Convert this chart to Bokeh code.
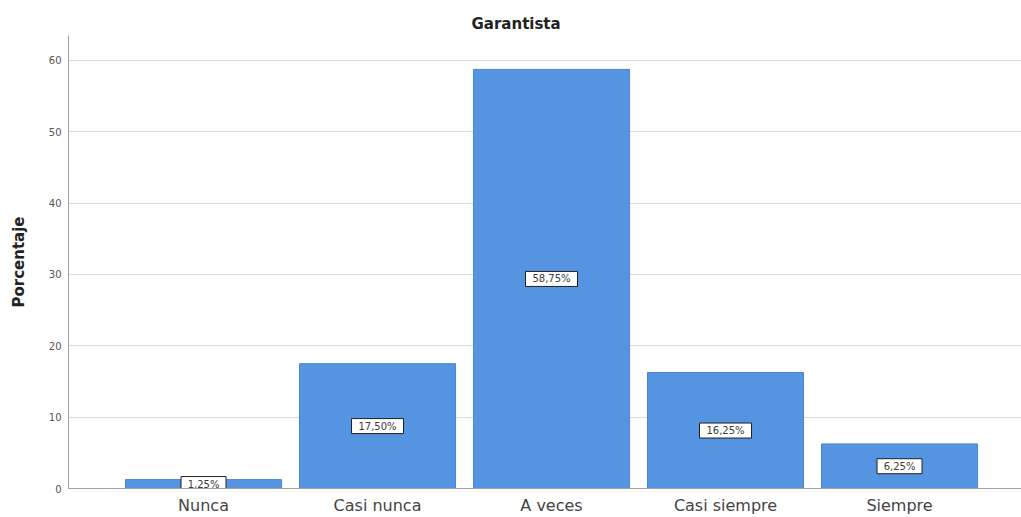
from bokeh.plotting import figure
from bokeh.models import ColumnDataSource, Range1d, FixedTicker
from bokeh.core.properties import value
from bokeh.embed import file_html
from bokeh.resources import INLINE

categories = ["Nunca", "Casi nunca", "A veces", "Casi siempre", "Siempre"]
values = [1.25, 17.50, 58.75, 16.25, 6.25]
labels = ["1,25%", "17,50%", "58,75%", "16,25%", "6,25%"]
y_ticks = [0, 10, 20, 30, 40, 50, 60]

FONT = "DejaVu Sans"

xs = list(range(len(categories)))
src = ColumnDataSource(dict(
    x=xs,
    top=values,
    mid=[v / 2 for v in values],
    lab=labels,
    bw=[7 * len(s) + 10 for s in labels],
))

p = figure(width=1021, height=517, output_backend="svg", toolbar_location=None,
           x_range=Range1d(-0.776, 4.701), y_range=Range1d(0, 63.5),
           min_border_left=68, min_border_right=0, min_border_top=35, min_border_bottom=29,
           title="Garantista")

p.title.align = "left"
p.title.offset = 403
p.title.text_font = FONT
p.title.text_font_size = "15px"
p.title.text_font_style = "bold"
p.title.text_color = "#222222"
p.title.standoff = 5

p.vbar(x="x", top="top", width=0.897, bottom=0, source=src,
       fill_color="#5594E1", line_color="#4a86d0", line_width=1)

p.rect(x="x", y="mid", width="bw", height=15, width_units="screen", height_units="screen",
       source=src, fill_color="white", line_color="#202020", line_width=1)
p.text(x="x", y="mid", text="lab", source=src, text_align="center", text_baseline="middle",
       text_font=value(FONT), text_font_size="10px", text_color="#3a3a3a")

p.outline_line_color = None
p.xgrid.visible = False
p.ygrid.grid_line_color = "#dcdcdc"
p.ygrid.grid_line_width = 1
p.ygrid.ticker = FixedTicker(ticks=y_ticks)

p.yaxis.ticker = FixedTicker(ticks=y_ticks)
p.yaxis.axis_label = "Porcentaje"
p.yaxis.axis_label_text_font = FONT
p.yaxis.axis_label_text_font_size = "15px"
p.yaxis.axis_label_text_font_style = "bold"
p.yaxis.axis_label_text_color = "#222222"
p.yaxis.axis_label_standoff = 18
p.yaxis.major_label_text_font = FONT
p.yaxis.major_label_text_font_size = "10px"
p.yaxis.major_label_text_color = "#555555"
p.yaxis.major_label_standoff = 7
p.yaxis.major_tick_out = 0
p.yaxis.major_tick_in = 0
p.yaxis.minor_tick_out = 0
p.yaxis.minor_tick_in = 0
p.yaxis.axis_line_color = "#a0a0a0"

p.xaxis.ticker = FixedTicker(ticks=xs)
p.xaxis.major_label_overrides = {i: c for i, c in zip(xs, categories)}
p.xaxis.major_label_text_font = FONT
p.xaxis.major_label_text_font_size = "16px"
p.xaxis.major_label_text_color = "#444444"
p.xaxis.major_label_standoff = 7
p.xaxis.major_tick_out = 0
p.xaxis.major_tick_in = 0
p.xaxis.minor_tick_out = 0
p.xaxis.minor_tick_in = 0
p.xaxis.axis_line_color = "#a0a0a0"

open("out.html", "w").write(file_html(p, INLINE))
